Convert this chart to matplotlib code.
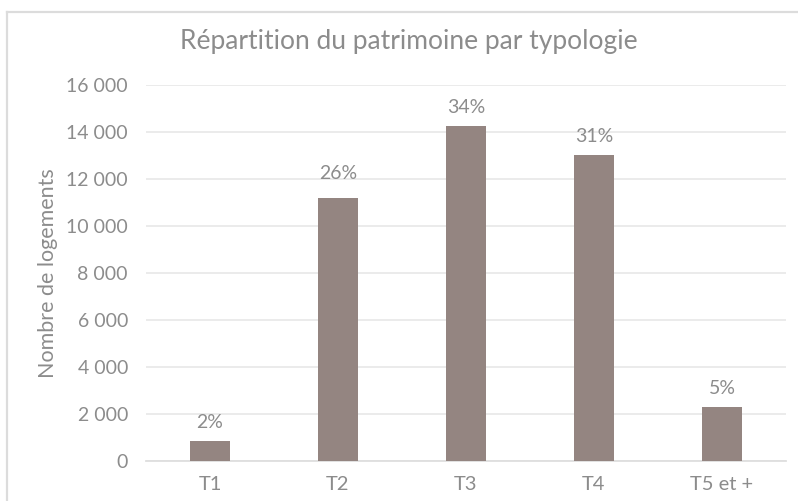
import matplotlib
matplotlib.use("Agg")
import matplotlib.pyplot as plt
from matplotlib.lines import Line2D
from matplotlib.ticker import FuncFormatter, MultipleLocator

# Données
typologies = ["T1", "T2", "T3", "T4", "T5 et +"]
logements = [840, 11180, 14255, 13010, 2275]
parts = ["2%", "26%", "34%", "31%", "5%"]

gris_texte = "#8c8c8c"
couleur_barre = "#948581"
couleur_grille = "#e9e9e9"

plt.rcParams["font.family"] = ["Lato", "DejaVu Sans"]

fig = plt.figure(figsize=(7.98, 5.01), dpi=100)
ax = fig.add_axes([146 / 798, 40.3 / 501, 640 / 798, 375.7 / 501])

# Cadre du graphique (seuls les bords haut et gauche sont visibles)
fig.add_artist(Line2D([7 / 798, 1], [1 - 11.7 / 501] * 2, color="#dcdcdc", lw=1.6,
                      transform=fig.transFigure))
fig.add_artist(Line2D([7 / 798] * 2, [0, 1 - 11.7 / 501], color="#dcdcdc", lw=1.6,
                      transform=fig.transFigure))

x = range(len(typologies))
barres = ax.bar(x, logements, width=0.31, color=couleur_barre, zorder=3)

# Étiquettes de pourcentage au-dessus des barres
for barre, part in zip(barres, parts):
    decalage = 14 if part == "26%" else 9.6
    ax.annotate(part, (barre.get_x() + barre.get_width() / 2, barre.get_height()),
                xytext=(0, decalage), textcoords="offset points",
                ha="center", va="baseline", fontsize=14, color=gris_texte)

ax.set_xlim(-0.5, len(typologies) - 0.5)
ax.set_ylim(0, 16000)
ax.yaxis.set_major_locator(MultipleLocator(2000))
ax.yaxis.set_major_formatter(FuncFormatter(lambda v, p: f"{int(v):,}".replace(",", " ")))
ax.set_xticks(list(x))
ax.set_xticklabels(typologies)

ax.grid(axis="y", color=couleur_grille, lw=1.3, zorder=0)
for cote in ["top", "right", "left"]:
    ax.spines[cote].set_visible(False)
ax.spines["bottom"].set_color("#dedede")
ax.spines["bottom"].set_linewidth(1.3)

ax.tick_params(axis="y", length=0, pad=13, labelsize=14, labelcolor=gris_texte)
ax.tick_params(axis="x", length=0, pad=11, labelsize=14.5, labelcolor=gris_texte)

ax.set_ylabel("Nombre de logements", fontsize=15.5, color=gris_texte, va="center")
ax.yaxis.set_label_coords(-0.153, 0.5)

fig.text(409 / 798, 1 - 49.3 / 501, "Répartition du patrimoine par typologie",
         ha="center", va="baseline", fontsize=19, color=gris_texte)

fig.savefig("out.png", dpi=100)
